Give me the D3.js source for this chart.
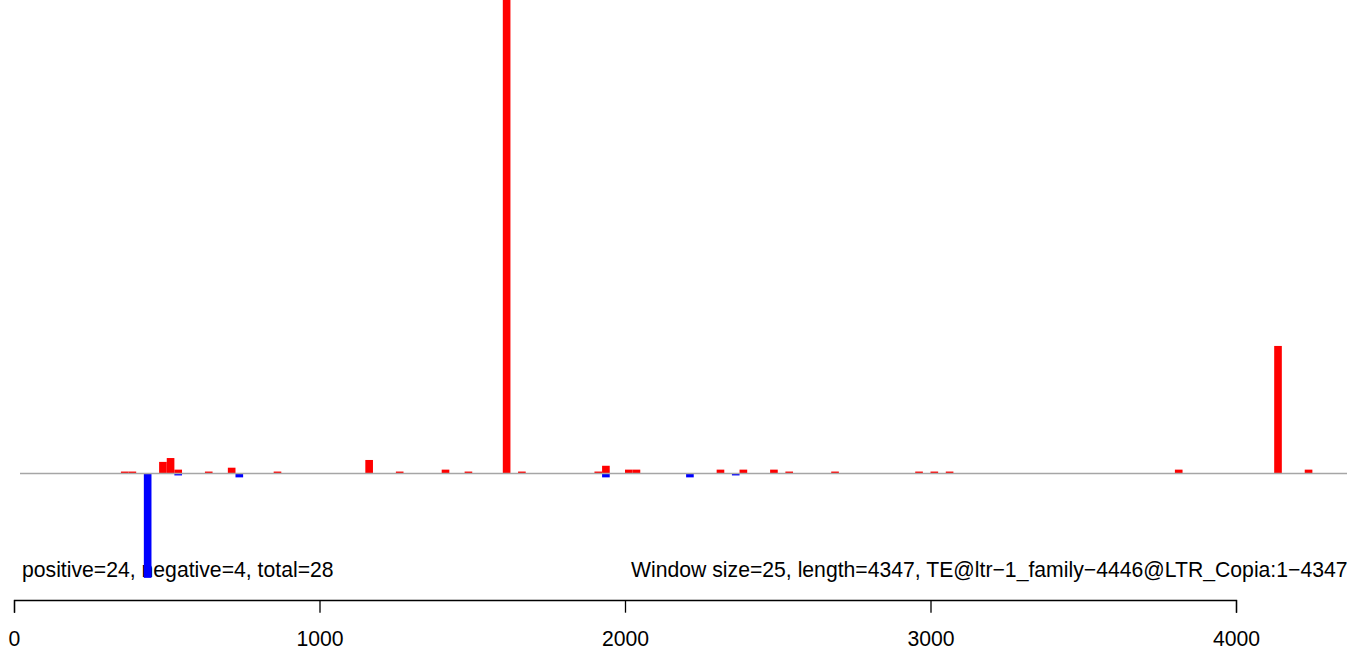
<!DOCTYPE html>
<html>
<head>
<meta charset="utf-8">
<script src="https://cdn.jsdelivr.net/npm/d3@7"></script>
<style>
  html, body { margin: 0; padding: 0; background: #fff; overflow: hidden; }
  svg { display: block; font-family: "Liberation Sans", Arial, Helvetica, sans-serif; }
</style>
</head>
<body>
<svg id="chart" width="1347" height="648"></svg>
<script>
// Window starts (bp) and read counts, window size 25
const windowSize = 25;
const seqLength = 4347;
const posStarts = [350, 375, 475, 500, 525, 625, 700, 850, 1150, 1250, 1400, 1475, 1600, 1650, 1900, 1925, 2000, 2025, 2300, 2375, 2475, 2525, 2675, 2950, 3000, 3050, 3800, 4125, 4225];
const posValues = [1, 1, 6, 8, 2, 1, 3, 1, 7, 1, 2, 1, 260, 1, 1, 4, 2, 2, 2, 2, 2, 1, 1, 1, 1, 1, 2, 66, 2];
const negStarts = [425, 525, 725, 1925, 2200, 2350];
const negValues = [54, 1, 2, 2, 2, 1];
const xTicks = [0, 1000, 2000, 3000, 4000];
const leftLabel = "positive=24, negative=4, total=28";
const rightLabel = "Window size=25, length=4347, TE@ltr\u22121_family\u22124446@LTR_Copia:1\u22124347";

const svg = d3.select("#chart");
const x = d3.scaleLinear().domain([0, 4000]).range([14, 1236]);
const y = d3.scaleLinear().domain([0, 245]).range([473.5, 0]);
const fs = 21.2;

// Texts (drawn under bars)
svg.append("text").attr("x", 22).attr("y", 576.7)
  .attr("font-size", fs).attr("fill", "#000").text(leftLabel);
svg.append("text").attr("x", 631).attr("y", 576.7)
  .attr("font-size", fs).attr("fill", "#000").text(rightLabel);

const pos = posStarts.map((s, i) => ({ s, v: posValues[i] }));
const neg = negStarts.map((s, i) => ({ s, v: negValues[i] }));

svg.append("g").selectAll("rect").data(pos).join("rect")
  .attr("x", d => x(d.s))
  .attr("width", d => x(d.s + windowSize) - x(d.s))
  .attr("y", d => y(d.v))
  .attr("height", d => y(0) - y(d.v))
  .attr("fill", "#ff0000");

svg.append("g").selectAll("rect").data(neg).join("rect")
  .attr("x", d => x(d.s))
  .attr("width", d => x(d.s + windowSize) - x(d.s))
  .attr("y", y(0))
  .attr("height", d => y(-d.v) - y(0))
  .attr("fill", "#0000ff");

// baseline
svg.append("line")
  .attr("x1", 20).attr("x2", 1347)
  .attr("y1", y(0)).attr("y2", y(0))
  .attr("stroke", "#a6a6a6").attr("stroke-width", 1.5);

// x axis
const axis = d3.axisBottom(x).tickValues(xTicks).tickFormat(d3.format("d"))
  .tickSizeOuter(0).tickSize(12.7).tickPadding(18.5);
const gA = svg.append("g").attr("transform", "translate(0,600)").call(axis);
gA.select(".domain").attr("stroke", "#000").attr("stroke-width", 1.3);
gA.selectAll(".tick line").attr("stroke", "#000").attr("stroke-width", 1.3);
gA.selectAll(".tick text").attr("font-size", fs)
  .attr("font-family", "Liberation Sans, Arial, sans-serif").attr("fill", "#000");
</script>
</body>
</html>
